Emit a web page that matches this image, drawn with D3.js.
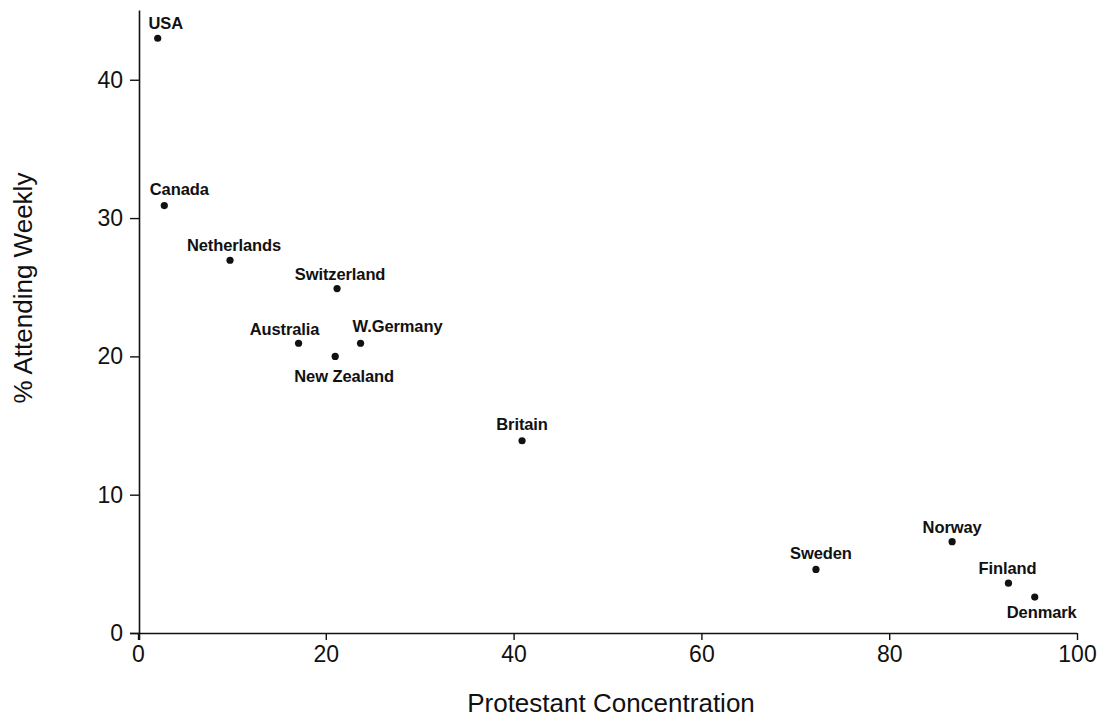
<!DOCTYPE html>
<html>
<head>
<meta charset="utf-8">
<script src="https://cdn.jsdelivr.net/npm/d3@7"></script>
<style>
  html, body { margin: 0; padding: 0; background: #fff; }
  svg { display: block; }
</style>
</head>
<body>
<svg id="chart" width="1119" height="719"></svg>
<script>
// ---- data ----
const countries = ["USA", "Canada", "Netherlands", "Switzerland", "Australia", "W.Germany",
                   "New Zealand", "Britain", "Sweden", "Norway", "Finland", "Denmark"];
const protestantConcentration = [2.1, 2.8, 9.8, 21.2, 17.1, 23.7, 21.0, 40.9, 72.2, 86.7, 92.7, 95.5];
const attendingWeekly = [43.0, 30.9, 26.95, 24.9, 20.95, 20.95, 20.0, 13.9, 4.6, 6.6, 3.6, 2.6];
const xTicks = [0, 20, 40, 60, 80, 100];
const yTicks = [0, 10, 20, 30, 40];
const xTitle = "Protestant Concentration";
const yTitle = "% Attending Weekly";

// ---- label placement (layout, px offsets from point) ----
const labelPlacement = {
  "USA": [8, -9], "Canada": [15, -11], "Netherlands": [4, -9], "Switzerland": [3, -9],
  "Australia": [-14, -8], "W.Germany": [37, -11], "New Zealand": [9, 26], "Britain": [0, -11],
  "Sweden": [5, -10], "Norway": [0, -9], "Finland": [-1, -9], "Denmark": [7, 21]
};

const svg = d3.select("#chart");
const x = d3.scaleLinear().domain([0, 100]).range([138, 1077]);
const y = d3.scaleLinear().domain([0, 45]).range([633, 10.6]);

const ink = "#111";
const tickFont = "Liberation Sans, Arial, sans-serif";

// x axis
const xAxis = svg.append("g").attr("transform", `translate(0,${y(0)})`)
  .call(d3.axisBottom(x).tickValues(xTicks).tickSize(7).tickPadding(6).tickSizeOuter(0));
xAxis.select(".domain").attr("d", `M130,0.5H${x(100)}`).attr("stroke", ink).attr("stroke-width", 1.6);
xAxis.selectAll(".tick line").attr("stroke", ink).attr("stroke-width", 1.4);
xAxis.selectAll(".tick text").attr("fill", ink).style("font-family", tickFont).style("font-size", "23px");

// y axis
const yAxis = svg.append("g").attr("transform", `translate(${x(0) + 1},0)`)
  .call(d3.axisLeft(y).tickValues(yTicks).tickSize(9).tickPadding(7).tickSizeOuter(0));
yAxis.select(".domain").attr("d", `M0.5,${y(45)}V${y(0) + 7}`).attr("stroke", ink).attr("stroke-width", 1.6);
yAxis.selectAll(".tick line").attr("stroke", ink).attr("stroke-width", 1.4);
yAxis.selectAll(".tick text").attr("fill", ink).style("font-family", tickFont).style("font-size", "23px");

// axis titles
svg.append("text")
  .attr("x", 611).attr("y", 712)
  .attr("text-anchor", "middle")
  .attr("fill", ink)
  .style("font-family", tickFont).style("font-size", "26px")
  .text(xTitle);

svg.append("text")
  .attr("transform", "translate(32,288) rotate(-90)")
  .attr("text-anchor", "middle")
  .attr("fill", ink)
  .style("font-family", tickFont).style("font-size", "26px")
  .text(yTitle);

// points
const pts = countries.map((c, i) => ({ name: c, px: protestantConcentration[i], py: attendingWeekly[i] }));

svg.append("g").selectAll("circle").data(pts).join("circle")
  .attr("cx", d => x(d.px)).attr("cy", d => y(d.py))
  .attr("r", 3.6).attr("fill", ink);

svg.append("g").selectAll("text").data(pts).join("text")
  .attr("x", d => x(d.px) + labelPlacement[d.name][0])
  .attr("y", d => y(d.py) + labelPlacement[d.name][1])
  .attr("text-anchor", "middle")
  .attr("fill", ink)
  .style("font-family", tickFont).style("font-weight", "bold").style("font-size", "16.5px")
  .style("letter-spacing", "-0.1px")
  .text(d => d.name);
</script>
</body>
</html>
